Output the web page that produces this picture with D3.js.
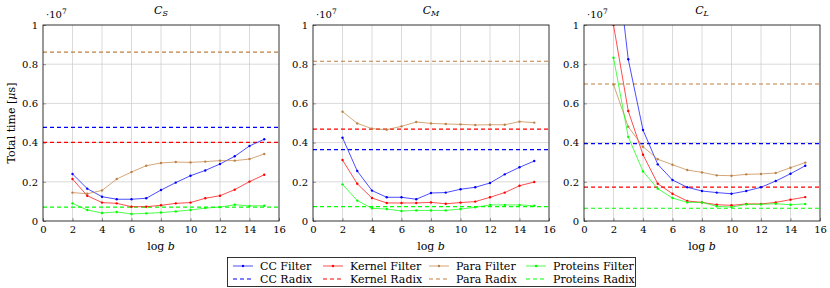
<!DOCTYPE html>
<html>
<head>
<meta charset="utf-8">
<script src="https://cdn.jsdelivr.net/npm/d3@7"></script>
<style>
  body { margin: 0; background: #fff; }
</style>
</head>
<body>
<svg id="chart" width="830" height="288" font-family="DejaVu Serif"></svg>
<script>
// values in units of 1e7 microseconds
const logB = [2, 3, 4, 5, 6, 7, 8, 9, 10, 11, 12, 13, 14, 15];
const xTicks = [0, 2, 4, 6, 8, 10, 12, 14, 16];
const yTicks = [0, 0.2, 0.4, 0.6, 0.8, 1];

const panelNames = ["S", "M", "L"];

const ccFilter = [
  [0.240, 0.165, 0.124, 0.111, 0.111, 0.116, 0.158, 0.196, 0.231, 0.258, 0.291, 0.330, 0.383, 0.417],
  [0.425, 0.255, 0.155, 0.121, 0.121, 0.111, 0.143, 0.145, 0.162, 0.172, 0.194, 0.238, 0.274, 0.306],
  [1.47, 0.825, 0.464, 0.289, 0.209, 0.172, 0.153, 0.145, 0.139, 0.153, 0.172, 0.204, 0.241, 0.282]
];
const kernelFilter = [
  [0.214, 0.129, 0.094, 0.090, 0.073, 0.073, 0.080, 0.090, 0.094, 0.116, 0.129, 0.160, 0.201, 0.236],
  [0.311, 0.190, 0.117, 0.092, 0.092, 0.092, 0.095, 0.088, 0.094, 0.099, 0.121, 0.145, 0.180, 0.199],
  [1.0, 0.561, 0.338, 0.190, 0.139, 0.102, 0.095, 0.083, 0.080, 0.087, 0.087, 0.095, 0.109, 0.122]
];
const paraFilter = [
  [0.145, 0.139, 0.156, 0.214, 0.250, 0.282, 0.296, 0.301, 0.299, 0.303, 0.308, 0.308, 0.316, 0.342],
  [0.558, 0.498, 0.471, 0.466, 0.483, 0.505, 0.498, 0.495, 0.493, 0.490, 0.491, 0.491, 0.507, 0.502],
  [0.696, 0.481, 0.379, 0.315, 0.287, 0.260, 0.248, 0.233, 0.231, 0.238, 0.240, 0.245, 0.272, 0.298]
];
const proteinsFilter = [
  [0.090, 0.056, 0.041, 0.046, 0.036, 0.039, 0.043, 0.049, 0.056, 0.066, 0.071, 0.083, 0.077, 0.078],
  [0.187, 0.104, 0.065, 0.061, 0.051, 0.054, 0.054, 0.054, 0.061, 0.070, 0.082, 0.082, 0.082, 0.078],
  [0.833, 0.429, 0.253, 0.165, 0.117, 0.095, 0.095, 0.075, 0.071, 0.085, 0.085, 0.088, 0.083, 0.087]
];
const ccRadix = [0.478, 0.364, 0.395];
const kernelRadix = [0.401, 0.469, 0.173];
const paraRadix = [0.862, 0.815, 0.699];
const proteinsRadix = [0.071, 0.073, 0.065];

const series = [
  { name: "CC", color: "#0000ff", filter: ccFilter, radix: ccRadix },
  { name: "Kernel", color: "#ff0000", filter: kernelFilter, radix: kernelRadix },
  { name: "Para", color: "#bf8040", filter: paraFilter, radix: paraRadix },
  { name: "Proteins", color: "#00ff00", filter: proteinsFilter, radix: proteinsRadix }
];

const FONT = "DejaVu Serif";
const svg = d3.select("#chart");
const panelLeft = [43, 313, 584];
const pw = 236, plotTop = 25, plotBottom = 221;
const fs = 11, tickFs = 10;

const label = (sel, size) => sel.attr("font-family", FONT).attr("font-size", size).attr("fill", "#000");

panelNames.forEach((pname, p) => {
  const x = d3.scaleLinear().domain([0, 16]).range([panelLeft[p], panelLeft[p] + pw]);
  const y = d3.scaleLinear().domain([0, 1]).range([plotBottom, plotTop]);
  const g = svg.append("g");

  const clipId = "clip" + p;
  svg.append("clipPath").attr("id", clipId).append("rect")
    .attr("x", x(0)).attr("y", plotTop).attr("width", pw).attr("height", plotBottom - plotTop);

  // grid
  g.append("g").selectAll("line").data(xTicks.slice(1, -1)).join("line")
    .attr("x1", d => x(d)).attr("x2", d => x(d)).attr("y1", plotTop).attr("y2", plotBottom)
    .attr("stroke", "#d0d0d0").attr("stroke-width", 0.8);
  g.append("g").selectAll("line").data(yTicks.slice(1, -1)).join("line")
    .attr("x1", x(0)).attr("x2", x(16)).attr("y1", d => y(d)).attr("y2", d => y(d))
    .attr("stroke", "#d0d0d0").attr("stroke-width", 0.8);

  // axes
  const xAxis = d3.axisBottom(x).tickValues(xTicks).tickSize(-3).tickPadding(5).tickFormat(d3.format("d"));
  const yAxis = d3.axisLeft(y).tickValues(yTicks).tickSize(-3).tickPadding(5).tickFormat(d => d === 0 || d === 1 ? d : d3.format(".1f")(d));
  const gx = g.append("g").attr("transform", `translate(0,${plotBottom})`).call(xAxis);
  const gy = g.append("g").attr("transform", `translate(${x(0)},0)`).call(yAxis);
  [gx, gy].forEach(a => {
    label(a, tickFs);
    a.select(".domain").remove();
    a.selectAll("line").attr("stroke", "#555").attr("stroke-width", 0.6);
  });

  // dashed radix lines
  const clipped = g.append("g").attr("clip-path", `url(#${clipId})`);
  series.forEach(s => {
    clipped.append("line")
      .attr("x1", x(0)).attr("x2", x(16))
      .attr("y1", y(s.radix[p])).attr("y2", y(s.radix[p]))
      .attr("stroke", s.color).attr("stroke-width", 1.2)
      .attr("stroke-dasharray", "4,3");
  });

  // filter lines
  const line = d3.line().x((d, i) => x(logB[i])).y(d => y(d));
  series.forEach(s => {
    const vals = s.filter[p];
    clipped.append("path").attr("d", line(vals))
      .attr("fill", "none").attr("stroke", s.color).attr("stroke-width", 0.7);
    clipped.append("g").selectAll("circle").data(vals).join("circle")
      .attr("cx", (d, i) => x(logB[i])).attr("cy", d => y(d)).attr("r", 1.2)
      .attr("fill", s.color);
  });

  // frame
  g.append("rect").attr("x", x(0)).attr("y", plotTop).attr("width", pw).attr("height", plotBottom - plotTop)
    .attr("fill", "none").attr("stroke", "#000").attr("stroke-width", 0.8);

  // title
  const t = label(g.append("text").attr("x", x(8)).attr("y", 14).attr("text-anchor", "middle"), fs);
  t.append("tspan").attr("font-style", "italic").text("C");
  t.append("tspan").attr("font-style", "italic").attr("font-size", 8).attr("dy", 2).text(pname);

  // exponent
  const e = label(g.append("text").attr("x", x(0) + 3).attr("y", 18), tickFs);
  e.append("tspan").text("·10");
  e.append("tspan").attr("font-size", 7.5).attr("dy", -4).text("7");

  // x label
  const xl = label(g.append("text").attr("x", x(8)).attr("y", 250).attr("text-anchor", "middle"), fs);
  xl.append("tspan").text("log ");
  xl.append("tspan").attr("font-style", "italic").text("b");
});

// y label
const yl = label(svg.append("text").attr("transform", "translate(15,123) rotate(-90)")
  .attr("text-anchor", "middle"), fs);
yl.append("tspan").text("Total time [");
yl.append("tspan").attr("font-style", "italic").text("μ");
yl.append("tspan").text("s]");

// legend
const lg = svg.append("g");
lg.append("rect").attr("x", 227.5).attr("y", 257.5).attr("width", 408).attr("height", 29)
  .attr("fill", "#fff").attr("stroke", "#000").attr("stroke-width", 0.8);
const colX = [233, 323, 429, 526];
series.forEach((s, i) => {
  [["Filter", 266, null], ["Radix", 279, "4,3"]].forEach(([kind, yy, dash]) => {
    lg.append("line").attr("x1", colX[i]).attr("x2", colX[i] + 20).attr("y1", yy).attr("y2", yy)
      .attr("stroke", s.color).attr("stroke-width", dash ? 1.2 : 0.7)
      .attr("stroke-dasharray", dash);
    if (!dash) lg.append("circle").attr("cx", colX[i] + 10).attr("cy", yy).attr("r", 1.2).attr("fill", s.color);
    label(lg.append("text").attr("x", colX[i] + 27).attr("y", yy + 4), fs)
      .text(s.name + " " + kind);
  });
});
</script>
</body>
</html>
